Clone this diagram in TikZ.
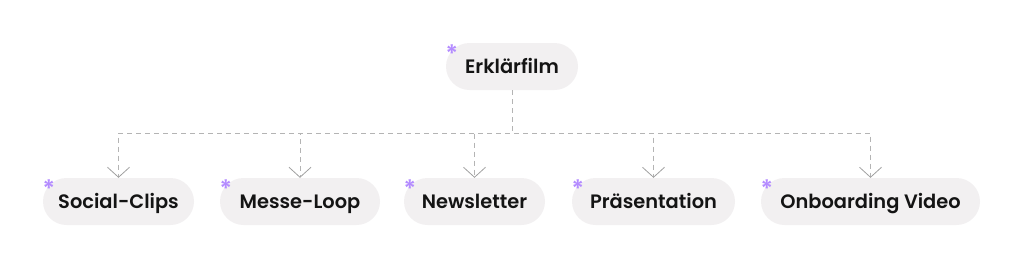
\documentclass[tikz,border=0pt]{standalone}
\usepackage{fontspec}
\setmainfont{Poppins}[UprightFont=* SemiBold]
\usetikzlibrary{arrows.meta}
\definecolor{pillfill}{HTML}{F2F0F1}
\definecolor{linegray}{HTML}{B4B4B4}
\definecolor{tipgray}{HTML}{A0A0A0}
\definecolor{star}{HTML}{B48CFF}
\definecolor{ink}{HTML}{141414}
\tikzset{
  pill/.style={fill=pillfill, rounded corners=23.5pt, minimum height=47pt, inner sep=0pt, text height=13.6pt, text depth=0pt, text=ink, font=\fontsize{19.4}{22}\selectfont},
  conn/.style={draw=linegray, line width=0.8pt, dash pattern=on 5pt off 4pt, -{Straight Barb[length=10pt,width=22pt,line width=0.8pt,color=tipgray]}},
  starmark/.style={text=star, font=\fontsize{24}{24}\selectfont, inner sep=0pt, anchor=center}
}
\begin{document}
\begin{tikzpicture}[x=1pt,y=-1pt]
\useasboundingbox (0,0) rectangle (1024,269);
\node[pill, minimum width=132pt] (top) at (512,66.5) {Erklärfilm};
\node[pill, minimum width=151pt] (c1) at (118.5,201.5) {Social-Clips};
\node[pill, minimum width=160pt] (c2) at (300,201.5) {Messe-Loop};
\node[pill, minimum width=141pt] (c3) at (474.5,201.5) {Newsletter};
\node[pill, minimum width=163pt] (c4) at (653.5,201.5) {Präsentation};
\node[pill, minimum width=219pt] (c5) at (870.5,201.5) {Onboarding Video};
\coordinate (bus) at (512,133);
\foreach \c in {c1,c2,c3,c4,c5}{
  \draw[conn] (top.south) -- (top.south |- bus) -| (\c.north);
}
\foreach \c in {top,c1,c2,c3,c4,c5}{
  \node[starmark] (s-\c) at ([xshift=6pt,yshift=-11pt]\c.north west) {*};
}
\end{tikzpicture}
\end{document}
